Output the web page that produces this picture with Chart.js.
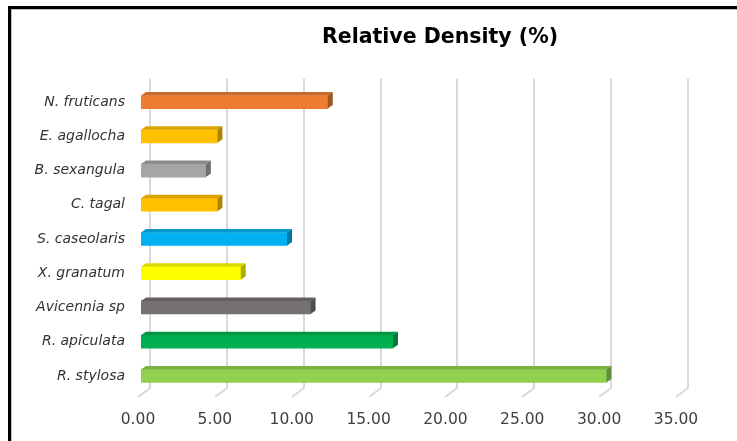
<!DOCTYPE html>
<html>
<head>
<meta charset="utf-8">
<title>Relative Density (%)</title>
<script src="https://cdn.jsdelivr.net/npm/chart.js@4.4.1/dist/chart.umd.min.js"></script>
<style>
  html, body { margin: 0; padding: 0; background: #ffffff; overflow: hidden; }
  #wrap { position: relative; width: 737px; height: 441px; overflow: hidden; }
  canvas { position: absolute; left: 0; top: 0; }
</style>
</head>
<body>
<div id="wrap">
  <canvas id="chart" width="737" height="441"></canvas>
</div>
<script>
// Species shown top to bottom
const species = [
  'N. fruticans', 'E. agallocha', 'B. sexangula', 'C. tagal', 'S. caseolaris',
  'X. granatum', 'Avicennia sp', 'R. apiculata', 'R. stylosa'
];
// Relative density (%) of each species
const relativeDensity = [12.15, 4.97, 4.22, 4.97, 9.50, 6.49, 11.03, 16.39, 30.28];
// Face colour of each bar
const barColors = [
  '#ED7D31', '#FFC000', '#A5A5A5', '#FFC000', '#00B0F0',
  '#FFFF00', '#767171', '#00B050', '#92D050'
];
// Axis range and step
const axisMin = 0;
const axisMax = 35;
const axisStep = 5;
const chartTitle = 'Relative Density (%)';

const font = 'DejaVu Sans';

function shade(hex, f) {
  const n = parseInt(hex.slice(1), 16);
  const r = Math.round(((n >> 16) & 255) * f);
  const g = Math.round(((n >> 8) & 255) * f);
  const b = Math.round((n & 255) * f);
  return 'rgb(' + r + ',' + g + ',' + b + ')';
}

// Depth of the pseudo-3D box (px)
const DX = 5, DY = 3.5;

// Outer frame: black edge along the top and left of the chart object
const framePlugin = {
  id: 'frame',
  beforeDraw(chart) {
    const { ctx, width, height } = chart;
    ctx.save();
    ctx.fillStyle = '#bdbdbd';
    ctx.fillRect(11, 9, width - 11, 1);
    ctx.fillRect(11, 9, 1, height - 9);
    ctx.fillStyle = '#000000';
    ctx.fillRect(8, 6, width - 8, 3);
    ctx.fillRect(8, 6, 3, height - 6);
    ctx.restore();
  }
};

const wallPlugin = {
  id: 'wall',
  beforeDatasetsDraw(chart) {
    const { ctx, chartArea, scales } = chart;
    const xs = scales.x;
    ctx.save();
    ctx.strokeStyle = '#d9d9d9';
    ctx.lineWidth = 2;
    for (let v = axisMin; v <= axisMax; v += axisStep) {
      const px = Math.round(xs.getPixelForValue(v));
      ctx.beginPath();
      ctx.moveTo(px + 9, chartArea.top - 6.5);
      ctx.lineTo(px + 9, chartArea.bottom - 5);
      ctx.lineTo(px - 3, chartArea.bottom + 4);
      ctx.stroke();
    }
    ctx.restore();
  },
  afterDatasetsDraw(chart) {
    const { ctx } = chart;
    const meta = chart.getDatasetMeta(0);
    ctx.save();
    meta.data.forEach((bar, i) => {
      const p = bar.getProps(['x', 'y', 'base', 'height'], true);
      const x0 = p.base, x1 = p.x;
      const yt = p.y - p.height / 2, yb = p.y + p.height / 2;
      const c = barColors[i];
      // top face
      ctx.fillStyle = shade(c, 0.85);
      ctx.beginPath();
      ctx.moveTo(x0, yt);
      ctx.lineTo(x0 + DX, yt - DY);
      ctx.lineTo(x1 + DX, yt - DY);
      ctx.lineTo(x1, yt);
      ctx.closePath();
      ctx.fill();
      // end face
      ctx.fillStyle = shade(c, 0.68);
      ctx.beginPath();
      ctx.moveTo(x1, yt);
      ctx.lineTo(x1 + DX, yt - DY);
      ctx.lineTo(x1 + DX, yb - DY);
      ctx.lineTo(x1, yb);
      ctx.closePath();
      ctx.fill();
    });
    ctx.restore();
  }
};

const titlePlugin = {
  id: 'titleText',
  afterDraw(chart) {
    const { ctx } = chart;
    ctx.save();
    ctx.font = 'bold 20.5px "' + font + '"';
    ctx.fillStyle = '#000000';
    ctx.textAlign = 'center';
    ctx.textBaseline = 'middle';
    ctx.fillText(chartTitle, 440, 38);
    ctx.restore();
  }
};

new Chart(document.getElementById('chart'), {
  type: 'bar',
  data: {
    labels: species,
    datasets: [{
      data: relativeDensity,
      backgroundColor: barColors,
      borderWidth: 0,
      barThickness: 13
    }]
  },
  options: {
    indexAxis: 'y',
    responsive: false,
    animation: false,
    devicePixelRatio: 1,
    layout: { padding: { top: 85, right: 58, bottom: 0, left: 0 } },
    plugins: {
      legend: { display: false },
      title: { display: false },
      tooltip: { enabled: false }
    },
    scales: {
      x: {
        min: axisMin,
        max: axisMax,
        grid: { display: false, drawTicks: false },
        border: { display: false },
        ticks: {
          stepSize: axisStep,
          padding: 18,
          labelOffset: -3,
          color: '#404040',
          font: { family: font, size: 15.5 },
          callback: (v) => Number(v).toFixed(2)
        },
        afterFit: (s) => { s.height = 48; }
      },
      y: {
        grid: { display: false, drawTicks: false },
        border: { display: false },
        ticks: {
          padding: 16,
          color: '#333333',
          font: { family: font, size: 14, style: 'italic' }
        },
        afterFit: (s) => { s.width = 141; }
      }
    }
  },
  plugins: [framePlugin, wallPlugin, titlePlugin]
});
</script>
</body>
</html>
